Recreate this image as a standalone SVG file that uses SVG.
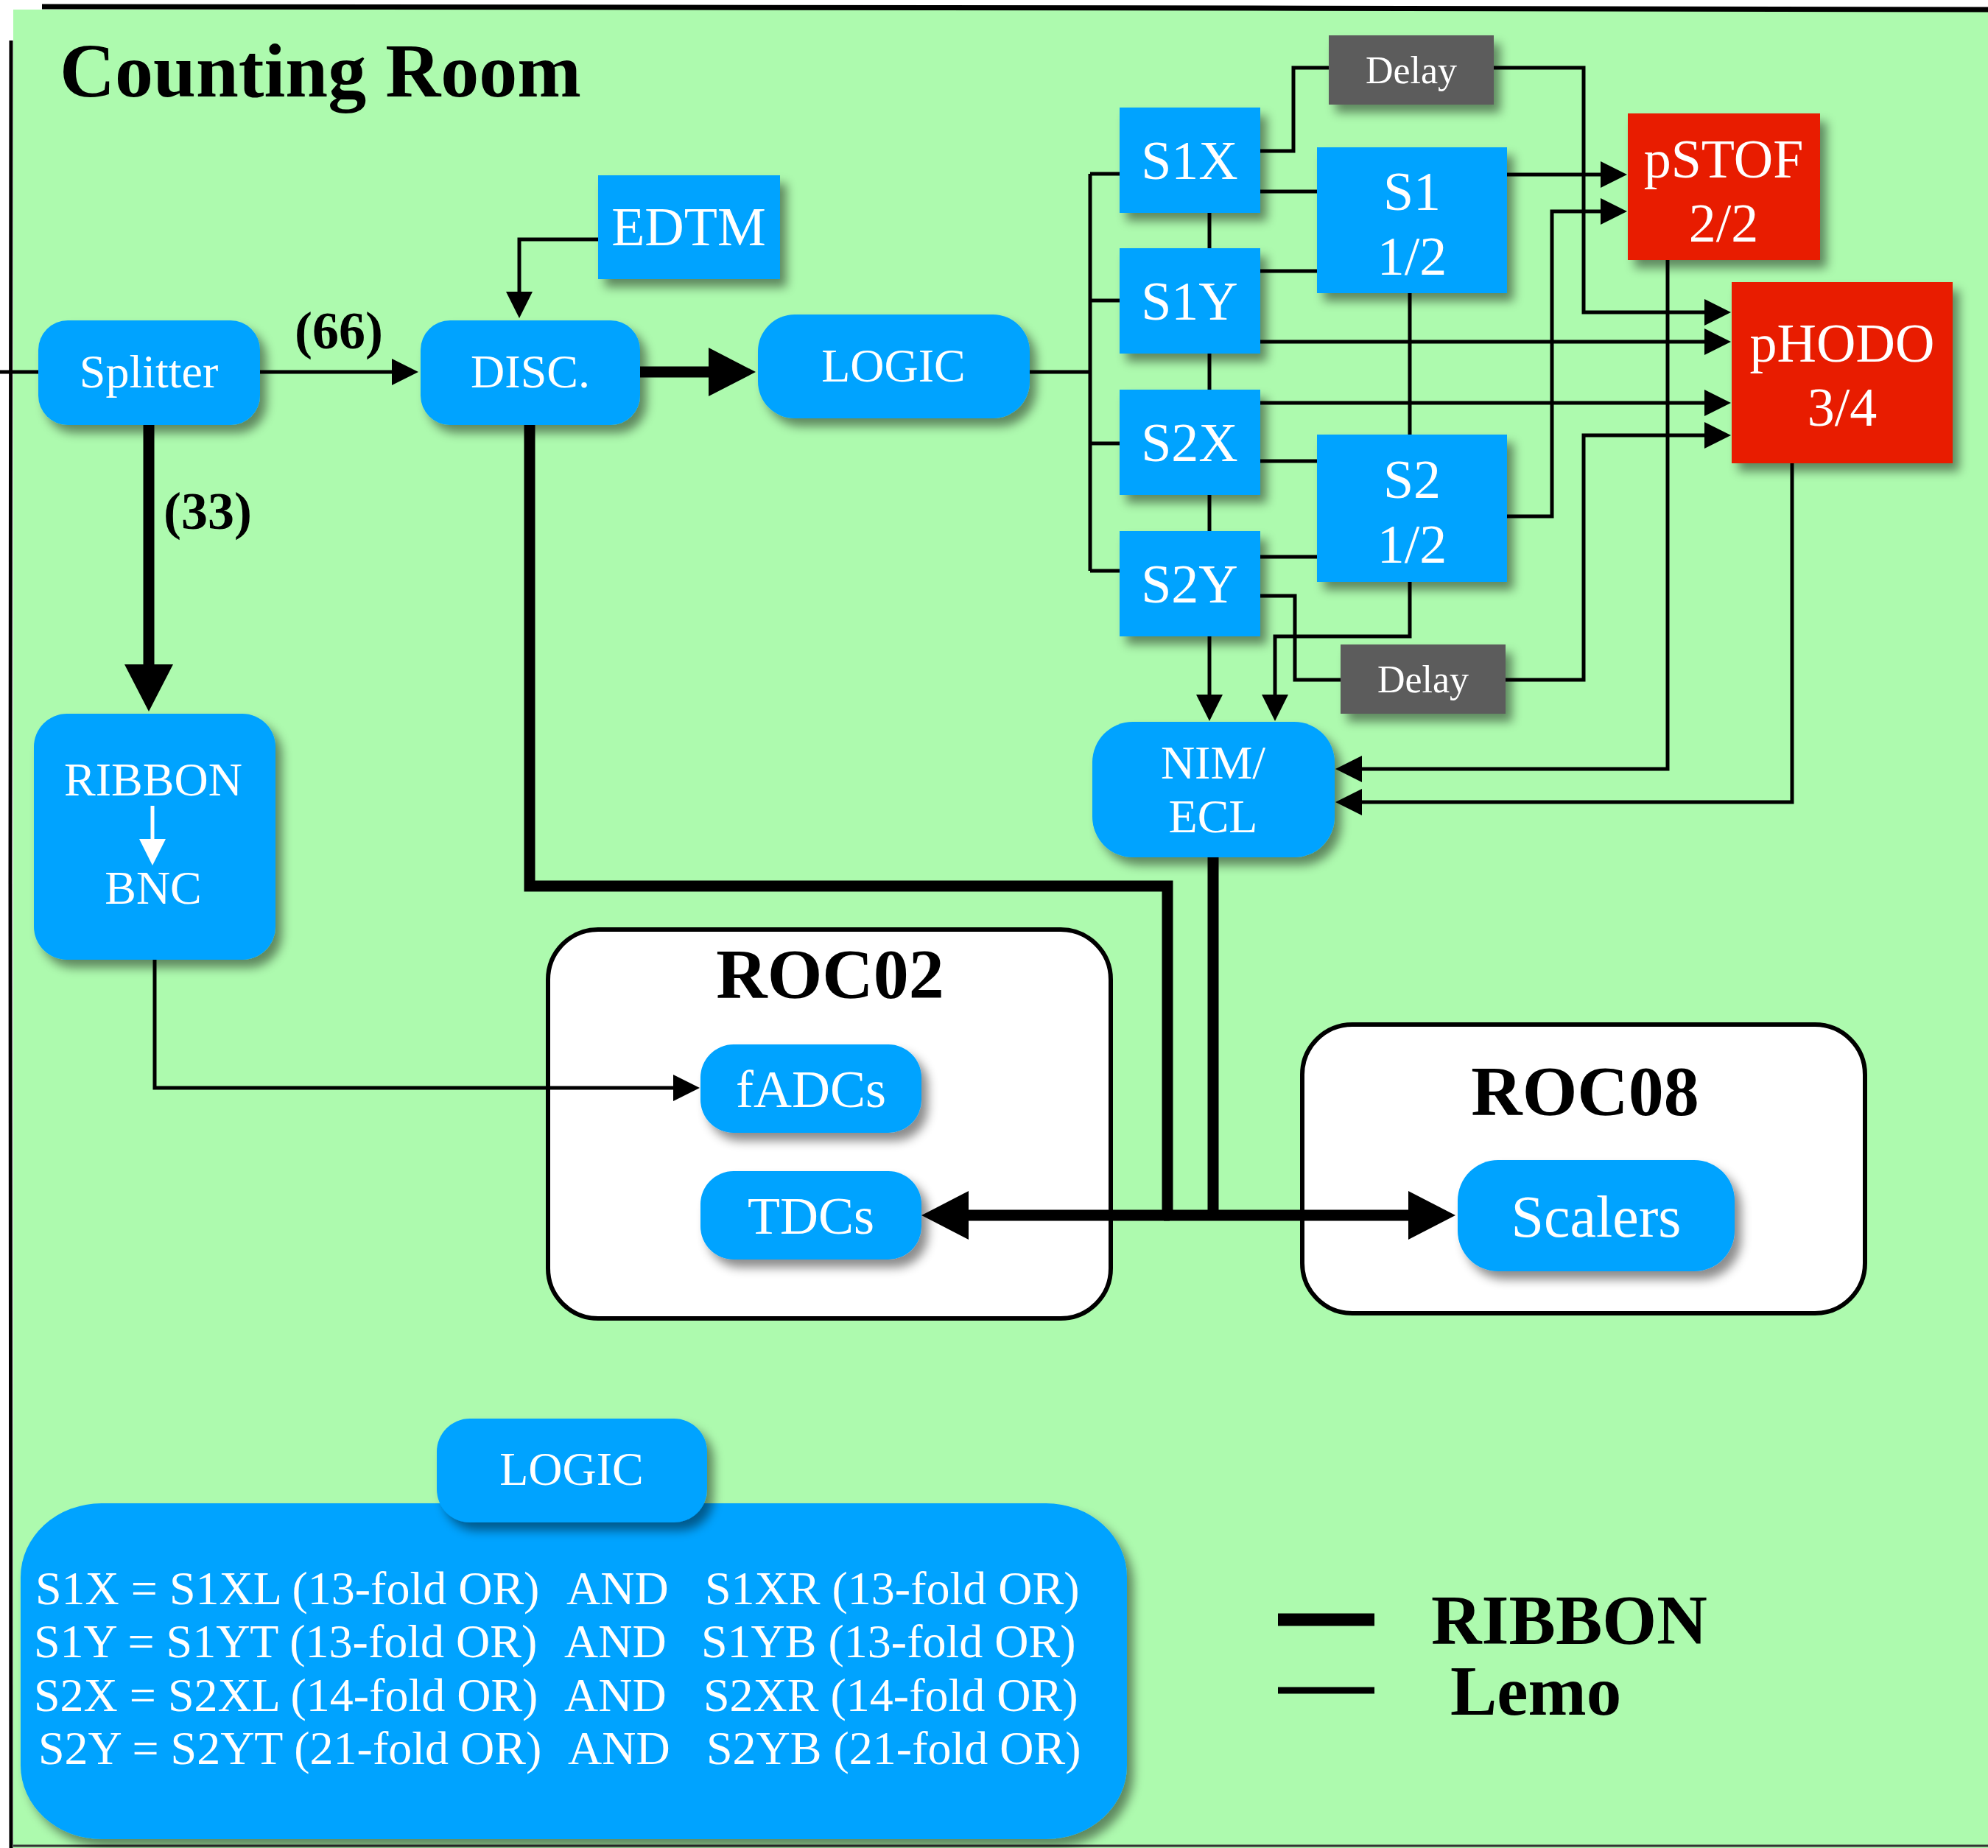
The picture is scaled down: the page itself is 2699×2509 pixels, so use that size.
<svg xmlns="http://www.w3.org/2000/svg" width="2699" height="2509" viewBox="0 0 2699 2509">
<style>
.b{fill:#00A3FF}
.r{fill:#E81C05}
.g{fill:#5C5C5C}
.sh{filter:url(#ds)}
text{font-family:"Liberation Serif","Times New Roman",serif}
.w{fill:#fff;text-anchor:middle}
.k{fill:#000}
.m{text-anchor:middle}
.bd{font-weight:bold}
.ln{fill:none;stroke:#000;stroke-width:5;stroke-linejoin:miter}
.th{fill:none;stroke:#000;stroke-width:15;stroke-linejoin:miter}
.roc{fill:#fff;stroke:#000;stroke-width:6}
.f64{font-size:64px}
.f74{font-size:74px}
.f52{font-size:52px}
</style>
<defs>
<filter id="ds" x="-20%" y="-20%" width="150%" height="150%">
<feDropShadow dx="9" dy="11" stdDeviation="7" flood-color="#000" flood-opacity="0.45"/>
</filter>
<marker id="a" markerUnits="userSpaceOnUse" markerWidth="40" markerHeight="40" refX="1" refY="18" orient="auto" overflow="visible">
<path d="M0,0 L36,18 L0,36 z" fill="#000"/>
</marker>
<marker id="A" markerUnits="userSpaceOnUse" markerWidth="70" markerHeight="70" refX="1" refY="33" orient="auto" overflow="visible">
<path d="M0,0 L64,33 L0,66 z" fill="#000"/>
</marker>
<marker id="wA" markerUnits="userSpaceOnUse" markerWidth="40" markerHeight="40" refX="1" refY="18" orient="auto" overflow="visible">
<path d="M0,0 L36,18 L0,36 z" fill="#fff"/>
</marker>
</defs>

<rect x="0" y="0" width="2699" height="2509" fill="#fff"/>
<rect x="18" y="13" width="2681" height="2496" fill="#ADFAAE"/>
<path d="M57,9 L900,10 L1700,11 L2699,13" fill="none" stroke="#000" stroke-width="7"/>
<path d="M15,55 L14,1200 L15,2509" fill="none" stroke="#000" stroke-width="5"/>
<path d="M18,2506 H2699" fill="none" stroke="#333" stroke-width="3"/>

<text class="k bd" x="81" y="131" font-size="104">Counting Room</text>

<g id="roc02"><rect class="roc" x="744" y="1262" width="764" height="528" rx="68"/><text class="k bd m" x="1127" y="1355" font-size="96">ROC02</text></g>
<g id="roc08"><rect class="roc" x="1768" y="1391" width="764" height="392" rx="68"/><text class="k bd m" x="2152" y="1514" font-size="96">ROC08</text></g>

<g id="connectors">
<path class="ln" d="M0,505 H52"/>
<path class="ln" d="M353,505 H533" marker-end="url(#a)"/>
<path class="ln" d="M812,325 H705 V397" marker-end="url(#a)"/>
<path class="ln" d="M1398,505 H1480"/>
<path class="ln" d="M1480,236 V775"/>
<path class="ln" d="M1480,236 H1520 M1480,408 H1520 M1480,602 H1520 M1480,775 H1520"/>
<path class="ln" d="M1642,289 V337 M1642,480 V529 M1642,672 V721"/>
<path class="ln" d="M1642,864 V944" marker-end="url(#a)"/>
<path class="ln" d="M1711,205 H1756 V92 H1804"/>
<path class="ln" d="M1711,260 H1788 M1711,368 H1788 M1711,626 H1788 M1711,756 H1788"/>
<path class="ln" d="M1914,398 V590"/>
<path class="ln" d="M1711,809 H1758 V923 H1820"/>
<path class="ln" d="M1914,790 V864 H1731 V944" marker-end="url(#a)"/>
<path class="ln" d="M2046,237 H2174" marker-end="url(#a)"/>
<path class="ln" d="M2046,701 H2107 V287 H2174" marker-end="url(#a)"/>
<path class="ln" d="M2028,92 H2150 V424 H2315" marker-end="url(#a)"/>
<path class="ln" d="M1711,464 H2315" marker-end="url(#a)"/>
<path class="ln" d="M1711,547 H2315" marker-end="url(#a)"/>
<path class="ln" d="M2044,923 H2150 V591 H2315" marker-end="url(#a)"/>
<path class="ln" d="M2264,353 V1044 H1848" marker-end="url(#a)"/>
<path class="ln" d="M2433,629 V1089 H1848" marker-end="url(#a)"/>
<path class="ln" d="M210,1303 V1477 H915" marker-end="url(#a)"/>
<path class="th" d="M202,577 V903" marker-end="url(#A)"/>
<path class="th" d="M869,505 H963" marker-end="url(#A)"/>
<path class="th" d="M719,577 V1203 H1585 V1650"/>
<path class="th" d="M1647,1164 V1650"/>
<path class="th" d="M1588,1650 H1314" marker-end="url(#A)"/>
<path class="th" d="M1580,1650 H1913" marker-end="url(#A)"/>
</g>

<g id="splitter"><rect class="b sh" x="52" y="435" width="301" height="142" rx="40"/><text class="w f64" x="202" y="526">Splitter</text></g>
<g id="disc"><rect class="b sh" x="571" y="435" width="298" height="142" rx="40"/><text class="w f64" x="720" y="526">DISC.</text></g>
<g id="edtm"><rect class="b sh" x="812" y="238" width="247" height="141"/><text class="w f74" x="935" y="333">EDTM</text></g>
<g id="logic"><rect class="b sh" x="1029" y="427" width="369" height="141" rx="50"/><text class="w f64" x="1213" y="518">LOGIC</text></g>
<g id="s1x"><rect class="b sh" x="1520" y="146" width="191" height="143"/><text class="w f74" x="1615" y="243">S1X</text></g>
<g id="s1y"><rect class="b sh" x="1520" y="337" width="191" height="143"/><text class="w f74" x="1615" y="434">S1Y</text></g>
<g id="s2x"><rect class="b sh" x="1520" y="529" width="191" height="143"/><text class="w f74" x="1615" y="626">S2X</text></g>
<g id="s2y"><rect class="b sh" x="1520" y="721" width="191" height="143"/><text class="w f74" x="1615" y="818">S2Y</text></g>
<g id="s1"><rect class="b sh" x="1788" y="200" width="258" height="198"/><text class="w f74" x="1917" y="285">S1</text><text class="w f74" x="1917" y="373">1/2</text></g>
<g id="s2"><rect class="b sh" x="1788" y="590" width="258" height="200"/><text class="w f74" x="1917" y="676">S2</text><text class="w f74" x="1917" y="764">1/2</text></g>
<g id="delay1"><rect class="g sh" x="1804" y="48" width="224" height="94"/><text class="w f52" x="1916" y="113">Delay</text></g>
<g id="delay2"><rect class="g sh" x="1820" y="875" width="224" height="94"/><text class="w f52" x="1932" y="940">Delay</text></g>
<g id="pstof"><rect class="r sh" x="2210" y="154" width="261" height="199"/><text class="w f74" x="2340" y="241">pSTOF</text><text class="w f74" x="2340" y="328">2/2</text></g>
<g id="phodo"><rect class="r sh" x="2351" y="383" width="300" height="246"/><text class="w f74" x="2501" y="491">pHODO</text><text class="w f74" x="2501" y="578">3/4</text></g>
<g id="nimecl"><rect class="b sh" x="1483" y="980" width="329" height="184" rx="55"/><text class="w f64" x="1647" y="1057">NIM/</text><text class="w f64" x="1647" y="1130">ECL</text></g>
<g id="ribbonbnc"><rect class="b sh" x="46" y="969" width="328" height="334" rx="45"/><text class="w f64" x="208" y="1080">RIBBON</text><path d="M207,1094 V1140" stroke="#fff" stroke-width="5" fill="none" marker-end="url(#wA)"/><text class="w f64" x="208" y="1227">BNC</text></g>

<text class="k bd m" x="460" y="473" font-size="72">(66)</text>
<text class="k bd" x="222" y="718" font-size="72">(33)</text>

<g id="fadcs"><rect class="b sh" x="951" y="1418" width="300" height="120" rx="45"/><text class="w" x="1101" y="1503" font-size="72">fADCs</text></g>
<g id="tdcs"><rect class="b sh" x="951" y="1590" width="300" height="120" rx="45"/><text class="w" x="1101" y="1675" font-size="72">TDCs</text></g>
<g id="scalers"><rect class="b sh" x="1979" y="1575" width="376" height="151" rx="55"/><text class="w" x="2167" y="1679" font-size="80">Scalers</text></g>

<g id="logicdef">
<rect class="b sh" x="28" y="2041" width="1502" height="456" rx="110" ry="100"/>
<rect class="b sh" x="593" y="1926" width="367" height="141" rx="45"/>
<text class="w f64" x="776" y="2016">LOGIC</text>
<g fill="#fff" class="f64">
<text x="48" y="2178">S1X = S1XL (13-fold OR)</text><text x="769" y="2178">AND</text><text x="957" y="2178">S1XR (13-fold OR)</text>
<text x="46" y="2250">S1Y = S1YT (13-fold OR)</text><text x="766" y="2250">AND</text><text x="952" y="2250">S1YB (13-fold OR)</text>
<text x="46" y="2323">S2X = S2XL (14-fold OR)</text><text x="766" y="2323">AND</text><text x="955" y="2323">S2XR (14-fold OR)</text>
<text x="52" y="2395">S2Y = S2YT (21-fold OR)</text><text x="771" y="2395">AND</text><text x="959" y="2395">S2YB (21-fold OR)</text>
</g>
</g>

<g id="legend">
<path d="M1735,2199 H1866" stroke="#000" stroke-width="17" fill="none"/>
<path d="M1735,2295 H1866" stroke="#000" stroke-width="9" fill="none"/>
<text class="k bd" x="1943" y="2232" font-size="95">RIBBON</text>
<text class="k bd" x="1969" y="2328" font-size="95">Lemo</text>
</g>
</svg>
